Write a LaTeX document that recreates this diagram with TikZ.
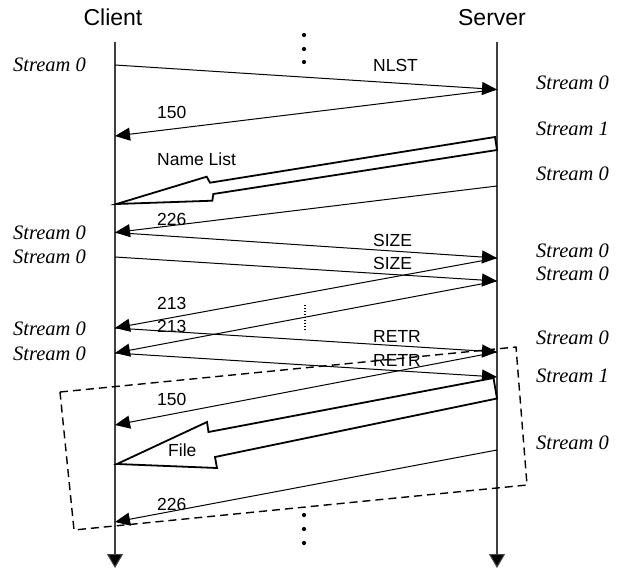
\documentclass[tikz,border=0pt]{standalone}
\usepackage{fontspec}
\setmainfont{Liberation Sans}
\newfontfamily\timesfont{Liberation Serif}
\usetikzlibrary{arrows.meta}
\begin{document}
\begin{tikzpicture}[x=1pt,y=-1pt,
  msg/.style={line width=1pt, -{Triangle[length=15pt,width=13pt]}},
  life/.style={line width=1.1pt, draw=black!75, -{Triangle[length=14pt,width=16pt,fill=black]}},
  lbl/.style={anchor=west, inner sep=0pt, font=\fontsize{17.5}{20}\selectfont},
  head/.style={inner sep=0pt, font=\fontsize{23}{26}\selectfont},
  strm/.style={anchor=west, inner sep=0pt, font=\timesfont\itshape\fontsize{20.5}{24}\selectfont},
  bigarrow/.style={line width=1.8pt, fill=white, line join=miter},
  dashbox/.style={line width=1.4pt, dash pattern=on 8pt off 5pt},
  dotline/.style={line width=1.3pt, dash pattern=on 1.3pt off 1.7pt}
]
\useasboundingbox (0,0) rectangle (623,570);

% headers
\node[head] (client) at (113,17.5) {Client};
\node[head] (server) at (492,17.5) {Server};

% lifelines
\coordinate (ctop) at (115,42);
\coordinate (cbot) at (115,568);
\coordinate (stop) at (497,42);
\coordinate (sbot) at (497,568);
\draw[life] (ctop) -- (cbot);
\draw[life] (stop) -- (sbot);

% ellipsis dots
\foreach \yy in {35,49,62} \fill (304,\yy) circle (2.1pt);
\foreach \yy in {515,529,543} \fill (304,\yy) circle (2.1pt);

% dotted marker
\coordinate (dA) at (305,305);
\coordinate (dB) at (305,330);
\draw[dotline] (dA) -- (dB);

% stream labels left
\node[strm] (l1) at (13,65) {Stream 0};
\node[strm] (l2) at (13,232.5) {Stream 0};
\node[strm] (l3) at (13,256.5) {Stream 0};
\node[strm] (l4) at (13,328.5) {Stream 0};
\node[strm] (l5) at (13,353.5) {Stream 0};
% stream labels right
\node[strm] (r1) at (536,83) {Stream 0};
\node[strm] (r2) at (536,129) {Stream 1};
\node[strm] (r3) at (536,174) {Stream 0};
\node[strm] (r4) at (536,251) {Stream 0};
\node[strm] (r5) at (536,274) {Stream 0};
\node[strm] (r6) at (536,337.5) {Stream 0};
\node[strm] (r7) at (536,376) {Stream 1};
\node[strm] (r8) at (536,443) {Stream 0};

% endpoints on lifelines
\coordinate (c1) at (115,65);
\coordinate (s1) at (497,89.5);
\coordinate (c2) at (115,136);
\coordinate (s3) at (497,186);
\coordinate (c3) at (115,232.5);
\coordinate (s4) at (497,258);
\coordinate (c4) at (115,257);
\coordinate (s5) at (497,281);
\coordinate (c5) at (115,328);
\coordinate (c6) at (115,353);
\coordinate (s6) at (497,352);
\coordinate (s7) at (497,377);
\coordinate (c7) at (115,425);
\coordinate (s8) at (497,450);
\coordinate (c8) at (115,522);

% messages
\draw[msg] (c1) -- (s1);
\draw[msg] (s1) -- (c2);
\draw[msg] (s3) -- (c3);
\draw[msg] (c3) -- (s4);
\draw[msg] (c4) -- (s5);
\draw[msg] (s4) -- (c5);
\draw[msg] (s5) -- (c6);
\draw[msg] (c5) -- (s6);
\draw[msg] (c6) -- (s7);
\draw[msg] (s6) -- (c7);
\draw[msg] (s8) -- (c8);

% big arrows
\draw[bigarrow] (495,137) -- (497,150) -- (213.3,194) -- (212.3,200.7) -- (116.5,204) -- (206.7,176.7) -- (210,182.7) -- cycle;
\draw[bigarrow] (493.5,378) -- (497,398.5) -- (215,457) -- (217,468) -- (117,464) -- (207,422) -- (208.5,432) -- cycle;

% dashed box
\draw[dashbox] (60,392) -- (516,347) -- (527,485) -- (74,530) -- cycle;

% message labels
\node[lbl] (tNLST) at (373,65) {NLST};
\node[lbl] (t150a) at (157,112) {150};
\node[lbl] (tNL) at (157,159) {Name List};
\node[lbl] (t226a) at (157,219.5) {226};
\node[lbl] (tSIZEa) at (373,240) {SIZE};
\node[lbl] (tSIZEb) at (373,263.5) {SIZE};
\node[lbl] (t213a) at (157,303) {213};
\node[lbl] (t213b) at (157,326.5) {213};
\node[lbl] (tRETRa) at (373,336) {RETR};
\node[lbl] (tRETRb) at (373,360) {RETR};
\node[lbl] (t150b) at (157,399) {150};
\node[lbl] (tFile) at (168,450) {File};
\node[lbl] (t226b) at (157,504) {226};
\end{tikzpicture}
\end{document}
